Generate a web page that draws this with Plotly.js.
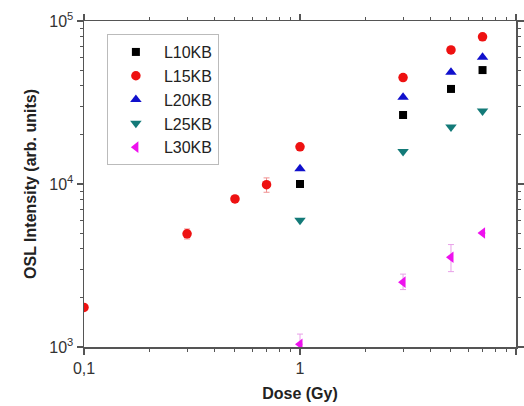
<!DOCTYPE html>
<html>
<head>
<meta charset="utf-8">
<script src="https://cdn.plot.ly/plotly-3.0.1.min.js"></script>
<style>html,body{margin:0;padding:0;background:#fff}#plot{width:524px;height:406px}</style>
</head>
<body>
<div id="plot"></div>
<script>
// Data
const doseL10 = [1, 3, 5, 7];
const oslL10 = [10000, 26500, 38300, 50000];

const doseL15 = [0.1, 0.3, 0.5, 0.7, 1, 3, 5, 7];
const oslL15 = [1750, 4950, 8100, 9900, 16900, 45000, 66500, 80000];
const errL15 = [0, 350, 0, 1000, 0, 0, 0, 0];

const doseL20 = [1, 3, 5, 7];
const oslL20 = [12400, 34000, 48500, 60000];

const doseL25 = [1, 3, 5, 7];
const oslL25 = [6000, 15800, 22400, 28000];

const doseL30 = [1, 3, 5, 7];
const oslL30 = [1040, 2500, 3550, 5000];
const errL30Plus = [160, 300, 700, 0];
const errL30Minus = [0, 250, 650, 0];

const xTickVals = [0.1, 1, 10];
const xTickText = ["0,1", "1", "10"];
const yTickVals = [1000, 10000, 100000];
const yTickText = ["10<sup>3</sup>", "10<sup>4</sup>", "10<sup>5</sup>"];

const minorX = [];
[0.1, 1].forEach(d => { for (let k = 2; k <= 9; k++) minorX.push(d * k); });
const minorY = [];
[1000, 10000].forEach(d => { for (let k = 2; k <= 9; k++) minorY.push(d * k); });

const FONT = 'Liberation Sans, Arial, sans-serif';

const traces = [
  {x: doseL10, y: oslL10, name: 'L10KB', mode: 'markers', type: 'scatter',
   marker: {symbol: 'square', size: 8, color: '#000000'}},
  {x: doseL15, y: oslL15, name: 'L15KB', mode: 'markers', type: 'scatter',
   marker: {symbol: 'circle', size: 9.5, color: '#ee1111'},
   error_y: {type: 'data', array: errL15, color: '#f09090', thickness: 1, width: 3}},
  {x: doseL20, y: oslL20, name: 'L20KB', mode: 'markers', type: 'scatter',
   marker: {symbol: 'triangle-up', size: 10, color: '#1010cc'}},
  {x: doseL25, y: oslL25, name: 'L25KB', mode: 'markers', type: 'scatter',
   marker: {symbol: 'triangle-down', size: 10, color: '#137a78'}},
  {x: doseL30, y: oslL30, name: 'L30KB', mode: 'markers', type: 'scatter',
   marker: {symbol: 'triangle-left', size: 10, color: '#ee11ee'},
   error_y: {type: 'data', symmetric: false, array: errL30Plus, arrayminus: errL30Minus,
             color: '#e8a0e8', thickness: 1, width: 3}}
];

const axisCommon = {
  type: 'log', showgrid: false, zeroline: false, showline: true,
  linecolor: '#555', linewidth: 1.5, mirror: 'ticks', ticks: 'outside',
  ticklen: 6, tickcolor: '#555', tickwidth: 1.2,
  tickfont: {family: FONT, size: 16, color: '#333'}
};

const layout = {
  width: 524, height: 406,
  margin: {l: 84, r: 8, t: 21, b: 59},
  paper_bgcolor: '#fff', plot_bgcolor: '#fff',
  showlegend: true,
  legend: {x: 0.053, y: 0.96, xanchor: 'left', yanchor: 'top',
           bgcolor: '#fff', bordercolor: '#bbb', borderwidth: 1,
           font: {family: FONT, size: 16, color: '#222'},
           tracegroupgap: 0, itemwidth: 46},
  xaxis: Object.assign({}, axisCommon, {
    range: [-1, 1],
    tickvals: xTickVals, ticktext: xTickText,
    minor: {tickvals: minorX, ticks: 'outside', ticklen: 3, tickcolor: '#555', tickwidth: 1},
    title: {text: '<b>Dose (Gy)</b>', standoff: 12,
            font: {family: FONT, size: 16, color: '#222'}}
  }),
  yaxis: Object.assign({}, axisCommon, {
    range: [3, 5],
    tickvals: yTickVals, ticktext: yTickText,
    minor: {tickvals: minorY, ticks: 'outside', ticklen: 3, tickcolor: '#555', tickwidth: 1},
    title: {text: '<b>OSL Intensity (arb. units)</b>', standoff: 8,
            font: {family: FONT, size: 16, color: '#222'}}
  })
};

Plotly.newPlot('plot', traces, layout, {displayModeBar: false, staticPlot: true});
</script>
</body>
</html>
